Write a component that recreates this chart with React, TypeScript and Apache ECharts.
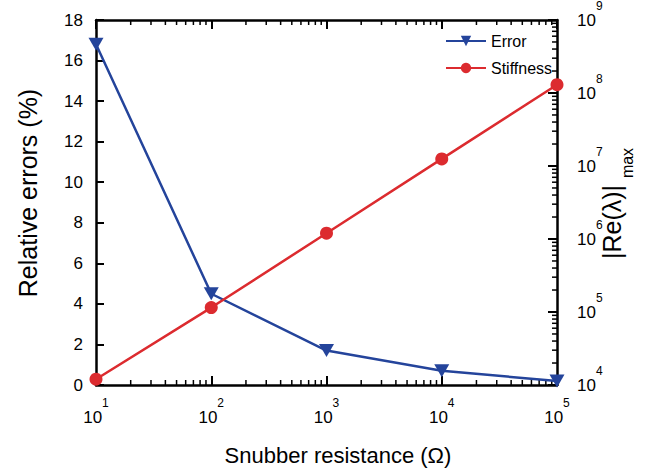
import React, { useEffect, useRef } from "react";
import * as echarts from "echarts";

const resistances = [10, 100, 1000, 10000, 100000];
const errorValues = [16.8, 4.5, 1.7, 0.7, 0.2];
const stiffnessValues = [1.2e4, 1.15e5, 1.2e6, 1.25e7, 1.3e8];
const leftTicks = { min: 0, max: 18, interval: 2 };
const xRange = { min: 10, max: 100000 };
const rightRange = { min: 1e4, max: 1e9 };
const seriesNames = ["Error", "Stiffness"];
const xTitle = "Snubber resistance (Ω)";
const leftTitle = "Relative errors (%)";
const rightTitle = "|Re(λ)|";
const rightTitleSub = "max";

const FONT = "'Liberation Sans', Arial, Helvetica, sans-serif";
const BLUE = "#24449b";
const RED = "#dc2b2f";
const TRI = "path://M0,0 L10,0 L5,9 Z";

function minorValues(min: number, max: number): number[] {
  const out: number[] = [];
  for (let d = Math.log10(min); d < Math.log10(max); d++) {
    for (let m = 2; m <= 9; m++) out.push(m * Math.pow(10, d));
  }
  return out;
}

function logLabel(margin: number) {
  return {
    margin,
    formatter: (v: number) => `{b|10}{s|${Math.round(Math.log10(v))}}`,
    rich: {
      b: { fontSize: 17, lineHeight: 40, fontFamily: FONT, color: "#000" },
      s: { fontSize: 12, lineHeight: 12, verticalAlign: "top", fontFamily: FONT, color: "#000" },
    },
  };
}

function axisLine() {
  return { show: true, onZero: false, lineStyle: { color: "#000", width: 2.5 } };
}

function tick(len: number) {
  return { show: true, inside: true, length: len, lineStyle: { color: "#000", width: 2 } };
}

export default function App() {
  const ref = useRef<HTMLDivElement>(null);
  useEffect(() => {
    if (!ref.current) return;
    const chart = echarts.init(ref.current, undefined, { renderer: "svg" });
    const minorX = minorValues(xRange.min, xRange.max);
    const minorY = minorValues(rightRange.min, rightRange.max);

    const titles: any[] = [
      {
        type: "text",
        x: 338,
        y: 455,
        style: { text: xTitle, font: `22px ${FONT}`, fill: "#000", align: "center", verticalAlign: "middle" },
      },
      {
        type: "text",
        x: 28,
        y: 193,
        rotation: Math.PI / 2,
        style: { text: leftTitle, font: `25px ${FONT}`, fill: "#000", align: "center", verticalAlign: "middle" },
      },
      {
        type: "text",
        x: 612,
        y: 222,
        rotation: Math.PI / 2,
        style: { text: rightTitle, font: `25px ${FONT}`, fill: "#000", align: "center", verticalAlign: "middle" },
      },
      {
        type: "text",
        x: 627,
        y: 163,
        rotation: Math.PI / 2,
        style: { text: rightTitleSub, font: `16px ${FONT}`, fill: "#000", align: "center", verticalAlign: "middle" },
      },
    ];

    chart.setOption({
      animation: false,
      grid: { left: 96, right: 114, top: 16, bottom: 85 },
      legend: {
        data: seriesNames,
        orient: "vertical",
        left: 440,
        top: 28,
        itemWidth: 40,
        itemHeight: 13,
        itemGap: 11,
        textStyle: { fontSize: 16, color: "#000", fontFamily: FONT },
      },
      xAxis: [
        {
          type: "log",
          min: xRange.min,
          max: xRange.max,
          position: "bottom",
          axisLine: axisLine(),
          axisTick: tick(9),
          splitLine: { show: false },
          axisLabel: logLabel(12),
        },
        {
          type: "log",
          min: xRange.min,
          max: xRange.max,
          position: "top",
          axisLine: axisLine(),
          axisTick: tick(9),
          splitLine: { show: false },
          axisLabel: { show: false },
        },
      ],
      yAxis: [
        {
          type: "value",
          min: leftTicks.min,
          max: leftTicks.max,
          interval: leftTicks.interval,
          position: "left",
          axisLine: axisLine(),
          axisTick: tick(8),
          splitLine: { show: false },
          axisLabel: { fontSize: 17, color: "#000", margin: 13, fontFamily: FONT },
        },
        {
          type: "log",
          min: rightRange.min,
          max: rightRange.max,
          position: "right",
          axisLine: axisLine(),
          axisTick: tick(9),
          splitLine: { show: false },
          axisLabel: logLabel(20),
        },
      ],
      series: [
        {
          name: seriesNames[0],
          type: "line",
          xAxisIndex: 0,
          yAxisIndex: 0,
          data: resistances.map((r, i) => [r, errorValues[i]]),
          symbol: TRI,
          symbolSize: [15, 13],
          lineStyle: { color: BLUE, width: 2.5 },
          itemStyle: { color: BLUE },
          z: 3,
        },
        {
          name: seriesNames[1],
          type: "line",
          xAxisIndex: 0,
          yAxisIndex: 1,
          data: resistances.map((r, i) => [r, stiffnessValues[i]]),
          symbol: "circle",
          symbolSize: 13,
          lineStyle: { color: RED, width: 2.5 },
          itemStyle: { color: RED },
          z: 3,
        },
      ],
      graphic: titles,
    });

    const lines: any[] = [];
    minorX.forEach((v) => {
      const b = chart.convertToPixel({ xAxisIndex: 0, yAxisIndex: 0 }, [v, leftTicks.min]) as number[];
      const t = chart.convertToPixel({ xAxisIndex: 0, yAxisIndex: 0 }, [v, leftTicks.max]) as number[];
      lines.push({ type: "line", shape: { x1: b[0], y1: b[1], x2: b[0], y2: b[1] - 5 }, style: { stroke: "#000", lineWidth: 1.5 } });
      lines.push({ type: "line", shape: { x1: t[0], y1: t[1], x2: t[0], y2: t[1] + 5 }, style: { stroke: "#000", lineWidth: 1.5 } });
    });
    minorY.forEach((v) => {
      const p = chart.convertToPixel({ xAxisIndex: 0, yAxisIndex: 1 }, [xRange.max, v]) as number[];
      lines.push({ type: "line", shape: { x1: p[0], y1: p[1], x2: p[0] - 5, y2: p[1] }, style: { stroke: "#000", lineWidth: 1.5 } });
    });
    chart.setOption({ graphic: [...titles, ...lines] });

    return () => chart.dispose();
  }, []);
  return <div ref={ref} style={{ width: 671, height: 470, position: "absolute", left: 0, top: 0 }} />;
}
